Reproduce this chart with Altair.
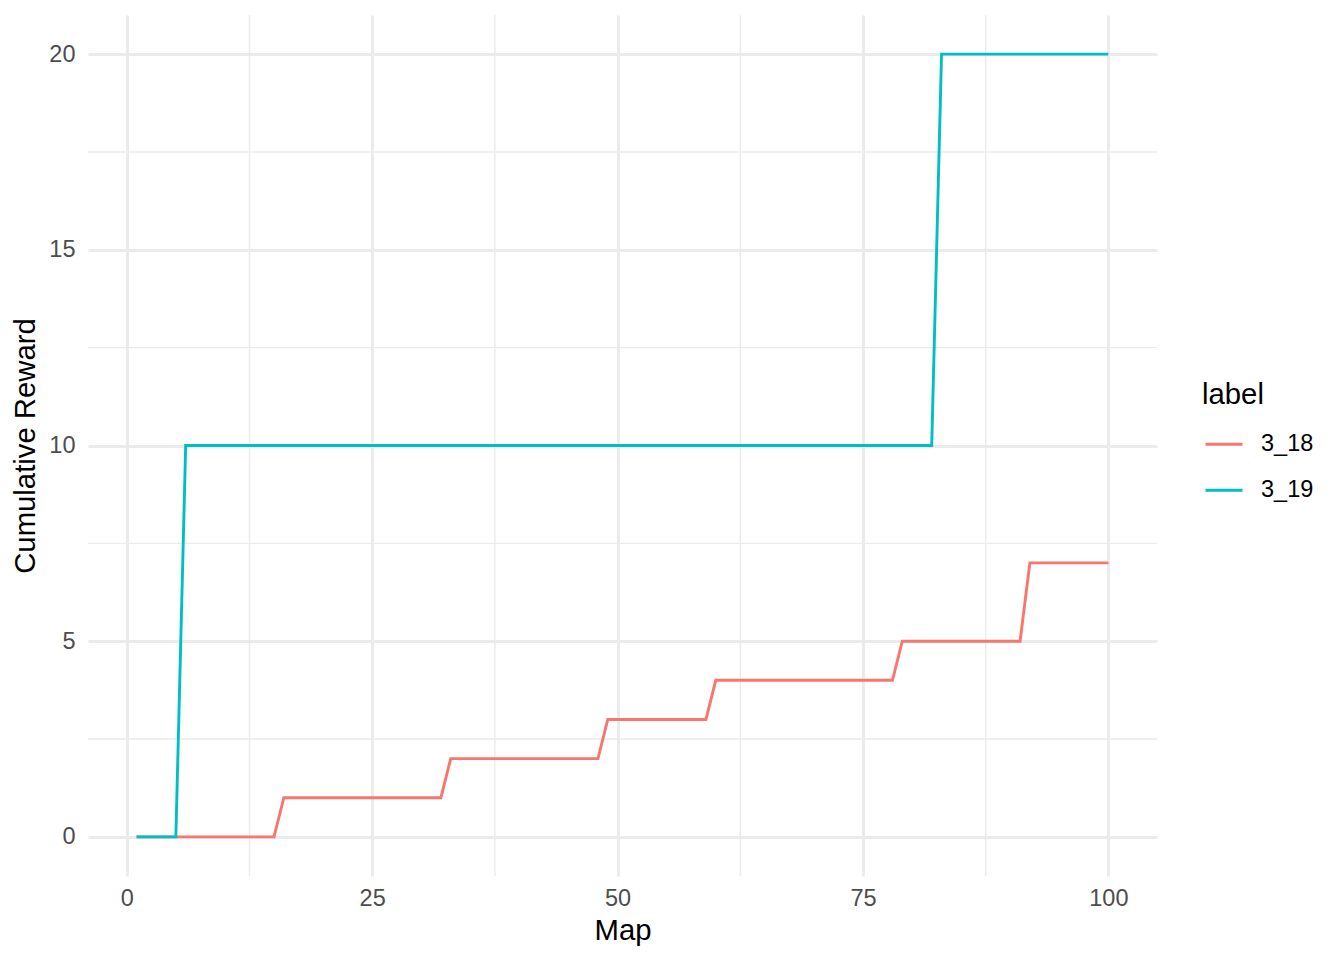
import altair as alt
import pandas as pd

# Data (vertices of each step line)
maps_18 = [1, 15, 16, 32, 33, 48, 49, 59, 60, 78, 79, 91, 92, 100]
reward_18 = [0, 0, 1, 1, 2, 2, 3, 3, 4, 4, 5, 5, 7, 7]
maps_19 = [1, 5, 6, 82, 83, 100]
reward_19 = [0, 0, 10, 10, 20, 20]
labels = ["3_18", "3_19"]
colors = ["#F8766D", "#00BFC4"]

x_major = [0, 25, 50, 75, 100]
x_minor = [12.5, 37.5, 62.5, 87.5]
y_major = [0, 5, 10, 15, 20]
y_minor = [2.5, 7.5, 12.5, 17.5]

df = pd.concat([
    pd.DataFrame({"Map": maps_18, "Reward": reward_18, "label": labels[0]}),
    pd.DataFrame({"Map": maps_19, "Reward": reward_19, "label": labels[1]}),
])

FONT = "Liberation Sans"
xscale = alt.Scale(domain=[-3.95, 104.95], nice=False, zero=False)
yscale = alt.Scale(domain=[-1, 21], nice=False, zero=False)
xaxis = alt.Axis(values=x_major, grid=True, ticks=False, tickSize=0, domain=False,
                 labelPadding=10, titlePadding=7, format="d")
yaxis = alt.Axis(values=y_major, grid=True, ticks=False, tickSize=0, domain=False,
                 labelPadding=13, titlePadding=8, format="d")

minor_x = alt.Chart(pd.DataFrame({"Map": x_minor})).mark_rule(
    color="#EBEBEB", strokeWidth=1.42
).encode(x=alt.X("Map:Q", scale=xscale, title="Map", axis=xaxis))

minor_y = alt.Chart(pd.DataFrame({"Reward": y_minor})).mark_rule(
    color="#EBEBEB", strokeWidth=1.42
).encode(y=alt.Y("Reward:Q", scale=yscale, title="Cumulative Reward", axis=yaxis))

lines = alt.Chart(df).mark_line(strokeWidth=2.9).encode(
    x=alt.X("Map:Q", scale=xscale, title="Map", axis=xaxis),
    y=alt.Y("Reward:Q", scale=yscale, title="Cumulative Reward", axis=yaxis),
    color=alt.Color("label:N", scale=alt.Scale(domain=labels, range=colors),
                    legend=alt.Legend(title="label", orient="none", legendX=1114, legendY=366,
                                      padding=0, symbolType="stroke", symbolSize=1369,
                                      symbolStrokeWidth=2.9, symbolOffset=2, labelOffset=17,
                                      titlePadding=14, rowPadding=14)),
)

chart = alt.layer(minor_x, minor_y, lines).properties(
    width=1069, height=861,
    autosize=alt.AutoSizeParams(type="none"),
    padding={"left": 80, "top": 7, "right": 179, "bottom": 76},
).configure_view(stroke=None).configure_axis(
    gridColor="#EBEBEB", gridWidth=2.85,
    labelFont=FONT, labelFontSize=23.5, labelColor="#4D4D4D",
    titleFont=FONT, titleFontSize=29.3, titleColor="#000000", titleFontWeight="normal",
).configure_legend(
    titleFont=FONT, titleFontSize=29.3, titleColor="#000000", titleFontWeight="normal",
    labelFont=FONT, labelFontSize=23.5, labelColor="#000000",
)

chart.save("out.html", embed_options={"renderer": "svg", "actions": False})
